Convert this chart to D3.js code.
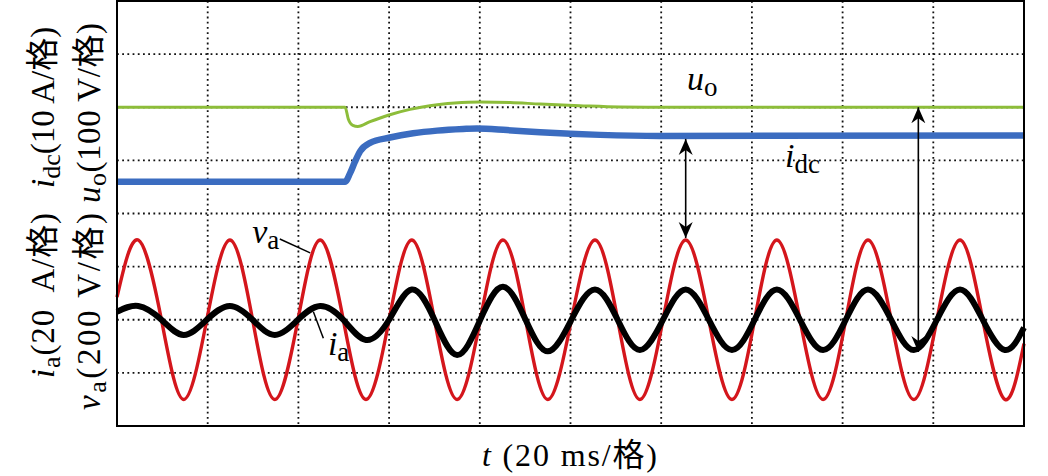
<!DOCTYPE html>
<html><head><meta charset="utf-8">
<script src="https://cdn.jsdelivr.net/npm/d3@7"></script>
<style>
body{margin:0;background:#fff}
svg{display:block}
text{font-family:"Liberation Serif","Times New Roman",Times,"DejaVu Serif",serif;fill:#000;white-space:pre}
tspan.cjk{font-family:"Noto Sans CJK SC","Noto Sans CJK JP",sans-serif}
</style>
</head><body>
<svg id="chart" width="1048" height="476"></svg>
<script>
// ---- data ----
// time in ms, 20 ms per division, 10 divisions
const xGridTimes = [20, 40, 60, 80, 100, 120, 140, 160, 180];
const yGridDivs = [1, 2, 3, 4, 5, 6, 7];

// quarter-period sample times for the AC waveforms (ms)
const timeQ = [0, 4.7, 9.8, 14.7, 19.8, 24.9, 29.9, 34.8, 39.9, 44.8, 49.9, 54.9, 60.0, 65.0, 70.0, 75.0,
  80.1, 85.1, 90.1, 95.0, 100.2, 105.4, 110.4, 115.3, 120.4, 125.4, 130.5, 135.6, 140.6, 145.5, 150.6,
  155.7, 160.7, 165.6, 170.7, 175.7, 180.8, 185.9, 190.9, 195.8, 200];
// grid voltage v_a (V), 200 V/div
const vaValues = [85, 300, 0, -300, 0, 300, 0, -300, 0, 300, 0, -300, 0, 300, 0, -300,
  0, 300, 0, -300, 0, 300, 0, -300, 0, 300, 0, -300, 0, 300, 0,
  -300, 0, 300, 0, -300, 0, 300, 0, -300, -90];
// grid current i_a (A), 20 A/div
const iaValues = [3, 5.2, 0, -5.7, 0, 5.2, 0, -5.7, 0, 5.2, 0, -7.6, 0, 11.4, 0, -13.3,
  0, 12.4, 0, -11.9, 0, 11.4, 0, -11.4, 0, 11.4, 0, -11.4, 0, 11.4, 0,
  -11.4, 0, 11.4, 0, -11.4, 0, 11.4, 0, -11.4, -3];

// DC output voltage u_o (V), 100 V/div
const uoTime   = [0, 50.3, 51.0, 52.0, 53.1, 55.8, 59.8, 64.6, 69.0, 74.5, 80.0, 86.7, 93.3, 102, 111, 119.7, 200];
const uoValues = [400, 400, 378, 366, 364, 373, 385, 396, 403, 408, 410, 409, 406, 403, 400.5, 400, 400];

// DC current i_dc (A), 10 A/div
const idcTime   = [0, 50.3, 51.4, 52.5, 53.6, 55.8, 60.2, 65.3, 70.6, 76.3, 79.4, 86.0, 93.3, 106.5, 119.7, 200];
const idcValues = [26.0, 26.0, 27.6, 29.8, 31.7, 33.3, 34.3, 35.1, 35.6, 35.9, 36.0, 35.7, 35.3, 34.8, 34.6, 34.7];

// ---- layout ----
const L = 117, R = 1024, T = 1, B = 426;
const svg = d3.select('#chart');

const x = d3.scaleLinear().domain([0, 200]).range([L, R]);
const yDiv = d3.scaleLinear().domain([0, 8]).range([B, T]);
// each channel: zero reference at division 2
const yUo  = d3.scaleLinear().domain([-200, 600]).range([B, T]);
const yIdc = d3.scaleLinear().domain([-20, 60]).range([B, T]);
const yVa  = d3.scaleLinear().domain([-400, 1200]).range([B, T]);
const yIa  = d3.scaleLinear().domain([-40, 120]).range([B, T]);

// grid
const grid = svg.append('g').attr('stroke', '#111').attr('stroke-width', 1.8).attr('stroke-dasharray', '1.8 3.4');
grid.selectAll('line.v').data(xGridTimes).join('line').attr('class', 'v')
  .attr('x1', d => x(d)).attr('x2', d => x(d)).attr('y1', T).attr('y2', B);
grid.selectAll('line.h').data(yGridDivs).join('line').attr('class', 'h')
  .attr('x1', L).attr('x2', R).attr('y1', d => yDiv(d)).attr('y2', d => yDiv(d));

// waveforms
const acLine = (ys) => d3.line().x((d, i) => x(timeQ[i])).y(d => ys(d)).curve(d3.curveNatural);
svg.append('path').datum(vaValues).attr('d', acLine(yVa))
  .attr('fill', 'none').attr('stroke', '#d4161c').attr('stroke-width', 3.4);
svg.append('path').datum(iaValues).attr('d', acLine(yIa))
  .attr('fill', 'none').attr('stroke', '#000').attr('stroke-width', 6).attr('stroke-linejoin', 'round');

const dcLine = (ts, ys) => d3.line().x((d, i) => x(ts[i])).y(d => ys(d)).curve(d3.curveMonotoneX);
svg.append('path').datum(uoValues).attr('d', dcLine(uoTime, yUo))
  .attr('fill', 'none').attr('stroke', '#8dbd3a').attr('stroke-width', 3);
svg.append('path').datum(idcValues).attr('d', dcLine(idcTime, yIdc))
  .attr('fill', 'none').attr('stroke', '#3b6cc0').attr('stroke-width', 6.5);

// arrows
const defs = svg.append('defs');
defs.append('marker').attr('id', 'ah').attr('viewBox', '0 -8 17 16')
  .attr('refX', 16).attr('refY', 0).attr('markerWidth', 17).attr('markerHeight', 16)
  .attr('markerUnits', 'userSpaceOnUse').attr('orient', 'auto-start-reverse')
  .append('path').attr('d', 'M0,-7L16,0L0,7L5,0Z').attr('fill', '#000');

const arrows = [
  {t: 125.4, y1: yIdc(34.7) + 3.5, y2: yVa(300) - 2},
  {t: 176.7, y1: yUo(400), y2: yIa(-11.4) + 2}
];
svg.selectAll('line.arrow').data(arrows).join('line').attr('class', 'arrow')
  .attr('x1', d => x(d.t)).attr('x2', d => x(d.t)).attr('y1', d => d.y1).attr('y2', d => d.y2)
  .attr('stroke', '#000').attr('stroke-width', 1.6)
  .attr('marker-start', 'url(#ah)').attr('marker-end', 'url(#ah)');

// leader lines for labels (time ms, divisions)
const leaders = [
  {t1: 35.9, d1: 3.52, t2: 42.6, d2: 3.26},
  {t1: 43.3, d1: 2.15, t2: 45.5, d2: 1.65}
];
svg.selectAll('line.leader').data(leaders).join('line').attr('class', 'leader')
  .attr('x1', d => x(d.t1)).attr('y1', d => yDiv(d.d1)).attr('x2', d => x(d.t2)).attr('y2', d => yDiv(d.d2))
  .attr('stroke', '#000').attr('stroke-width', 1.5);

// frame
svg.append('rect').attr('x', L).attr('y', T).attr('width', R - L).attr('height', B - T)
  .attr('fill', 'none').attr('stroke', '#000').attr('stroke-width', 2);

// rich text helper: parts = [text, italic, sub, cjk]
function rich(sel, parts, mainSize, subSize, subShift) {
  const t = sel.append('text');
  let shifted = false;
  parts.forEach(([s, it, sub, cjk]) => {
    const ts = t.append('tspan').text(s).attr('font-size', sub ? subSize : mainSize);
    if (it) ts.attr('font-style', 'italic');
    if (cjk) ts.attr('class', 'cjk');
    if (sub && !shifted) { ts.attr('dy', subShift); shifted = true; }
    else if (!sub && shifted) { ts.attr('dy', -subShift); shifted = false; }
  });
  return t;
}
// spread letters so the text covers the same length as in the reference
function fitLength(t, target) {
  const n = t.text().length;
  const len0 = t.node().getComputedTextLength();
  const ls = Math.max(0, (target - len0) / (n - 1));
  t.attr('letter-spacing', ls.toFixed(2));
}

// in-plot labels
const labels = [
  {t: 29.8, d: 3.44, parts: [['v', true], ['a', false, true]]},
  {t: 46.5, d: 1.335, parts: [['i', true], ['a', false, true]]},
  {t: 125.7, d: 6.32, parts: [['u', true], ['o', false, true]]},
  {t: 147.3, d: 4.87, parts: [['i', true], ['dc', false, true]]}
];
labels.forEach(lb => {
  const g = svg.append('g').attr('transform', `translate(${x(lb.t)},${yDiv(lb.d)})`);
  rich(g, lb.parts, 34, 27, 6);
});

// axis titles
const xt = svg.append('g').attr('transform', `translate(482,466)`);
const xTitle = rich(xt, [['t', true], [' (20 ms/', false], ['格', false, false, true], [')', false]], 32, 22, 6);
fitLength(xTitle, 175);

const yTitles = [
  {x: 54, y: 378, len: 165, parts: [['i', true], ['a', false, true], ['(20  A/', false], ['格', false, false, true], [')', false]]},
  {x: 54, y: 188, len: 161, parts: [['i', true], ['dc', false, true], ['(10 A/', false], ['格', false, false, true], [')', false]]},
  {x: 100, y: 410, len: 197, parts: [['v', true], ['a', false, true], ['(200 V/', false], ['格', false, false, true], [')', false]]},
  {x: 100, y: 203, len: 180, parts: [['u', true], ['o', false, true], ['(100 V/', false], ['格', false, false, true], [')', false]]}
];
yTitles.forEach(yt => {
  const g = svg.append('g').attr('transform', `translate(${yt.x},${yt.y}) rotate(-90)`);
  const t = rich(g, yt.parts, 33, 26, 6);
  fitLength(t, yt.len);
});
</script>
</body></html>
